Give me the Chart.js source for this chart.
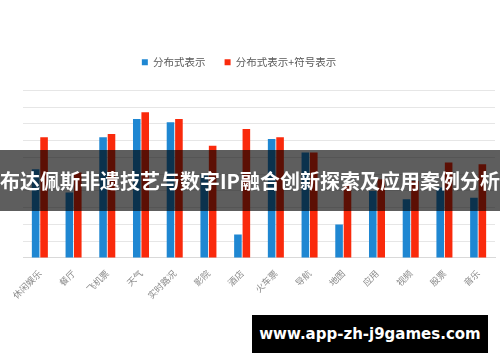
<!DOCTYPE html>
<html>
<head>
<meta charset="utf-8">
<script src="https://cdn.jsdelivr.net/npm/chart.js@4/dist/chart.umd.min.js"></script>
<style>
    html, body { margin: 0; padding: 0; background: #fff; }
    #wrap { position: relative; width: 500px; height: 362px; overflow: hidden; }
    #banner {
        position: absolute; left: 0; top: 150px; width: 500px; height: 61px;
        background: rgba(0, 0, 0, 0.63);
        color: #fff; font: bold 20px "Noto Sans CJK SC", sans-serif;
        line-height: 61px; text-align: center; white-space: nowrap;
    }
    #mark {
        position: absolute; left: 252px; top: 315px; width: 236px; height: 38px;
        background: #000; color: #fff;
        font: bold 15px "DejaVu Sans", sans-serif;
        line-height: 38px; text-align: center; white-space: nowrap;
    }
</style>
</head>
<body>
<div id="wrap">
    <canvas id="chart" width="500" height="362"></canvas>
    <div id="banner">布达佩斯非遗技艺与数字IP融合创新探索及应用案例分析</div>
    <div id="mark">www.app-zh-j9games.com</div>
</div>
<script>
// Data
const categories = ['休闲娱乐', '餐厅', '飞机票', '天气', '实时路况', '影院', '酒店', '火车票', '导航', '地图', '应用', '视频', '股票', '音乐'];
const distributed = [5.3, 3.9, 7.2, 8.3, 8.1, 5.0, 1.4, 7.1, 6.3, 2.0, 4.0, 3.5, 4.2, 3.6];
const distributedSymbolic = [7.2, 5.1, 7.4, 8.7, 8.3, 6.7, 7.7, 7.2, 6.3, 4.4, 4.7, 4.6, 5.7, 5.6];
const seriesNames = ['分布式表示', '分布式表示+符号表示'];

const cjk = '"Noto Sans CJK SC", sans-serif';

// extra space under the legend, and nudge it a bit to the left like the original
const legendTweak = {
    id: 'legendTweak',
    beforeInit(chart) {
        const fit = chart.legend.fit;
        chart.legend.fit = function () {
            fit.call(this);
            this.height += 13;
        };
    },
    afterLayout(chart) {
        chart.legend.left -= 20;
        chart.legend.right -= 20;
    }
};

new Chart(document.getElementById('chart'), {
    type: 'bar',
    data: {
        labels: categories,
        datasets: [
            {
                label: seriesNames[0],
                data: distributed,
                backgroundColor: '#1f87d2',
                categoryPercentage: 0.5,
                barPercentage: 0.9
            },
            {
                label: seriesNames[1],
                data: distributedSymbolic,
                backgroundColor: '#fa2a0c',
                categoryPercentage: 0.5,
                barPercentage: 0.9
            }
        ]
    },
    options: {
        responsive: false,
        animation: false,
        layout: {
            padding: { top: 38, left: 23, right: 5, bottom: 59 }
        },
        plugins: {
            legend: {
                position: 'top',
                labels: {
                    color: '#595959',
                    font: { size: 10.5, family: cjk },
                    boxWidth: 6,
                    boxHeight: 6,
                    padding: 19
                }
            },
            tooltip: { enabled: false }
        },
        scales: {
            y: {
                min: 0,
                max: 10,
                ticks: { display: false, stepSize: 1 },
                grid: { color: '#e6e6e6', drawTicks: false },
                border: { display: false }
            },
            x: {
                grid: { display: false },
                border: { color: '#d9d9d9' },
                ticks: {
                    color: '#8a8a8a',
                    font: { size: 9, family: cjk },
                    minRotation: 45,
                    maxRotation: 45,
                    padding: 2
                }
            }
        }
    },
    plugins: [legendTweak]
});
</script>
</body>
</html>
